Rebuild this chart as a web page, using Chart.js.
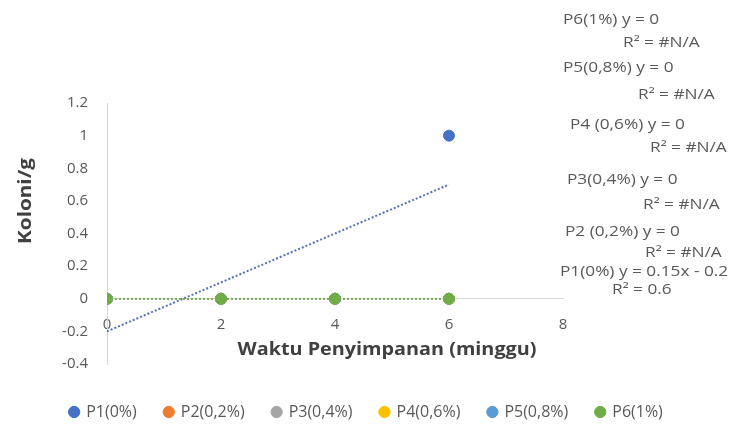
<!DOCTYPE html>
<html>
<head>
<meta charset="utf-8">
<script src="https://cdn.jsdelivr.net/npm/chart.js@4.4.1/dist/chart.umd.min.js"></script>
<style>
  html, body { margin: 0; padding: 0; background: #fff; }
  #wrap { width: 733px; height: 430px; position: relative; }
</style>
</head>
<body>
<div id="wrap"><canvas id="chart" width="733" height="430"></canvas></div>
<script>
// data
const weeks = [0, 2, 4, 6];
const seriesNames = ["P1(0%)", "P2(0,2%)", "P3(0,4%)", "P4(0,6%)", "P5(0,8%)", "P6(1%)"];
const p1 = [0, 0, 0, 1];
const p2 = [0, 0, 0, 0];
const p3 = [0, 0, 0, 0];
const p4 = [0, 0, 0, 0];
const p5 = [0, 0, 0, 0];
const p6 = [0, 0, 0, 0];
const seriesColors = ["#4472C4", "#ED7D31", "#A5A5A5", "#FFC000", "#5B9BD5", "#70AD47"];

// trendline end points (x = 0 and x = 6)
const trendX = [0, 6];
const trendP1 = [-0.2, 0.7];
const trendZero = [0, 0];

const trendLabels = [
  "P6(1%) y = 0", "R\u00B2 = #N/A",
  "P5(0,8%) y = 0", "R\u00B2 = #N/A",
  "P4 (0,6%) y = 0", "R\u00B2 = #N/A",
  "P3(0,4%) y = 0", "R\u00B2 = #N/A",
  "P2 (0,2%) y = 0", "R\u00B2 = #N/A",
  "P1(0%) y = 0.15x - 0.2", "R\u00B2 = 0.6"
];
// where each label sits (left x, middle y)
const labelPos = [
  [563, 20], [623, 43],
  [563, 68], [638, 95],
  [570, 125], [650, 148],
  [567, 180], [643, 205],
  [565, 232], [645, 253],
  [560, 272], [612, 290]
];

const allSeries = [p1, p2, p3, p4, p5, p6];
const toPts = (xs, ys) => xs.map((x, i) => ({ x: x, y: ys[i] }));

var datasets = [];
allSeries.forEach(function (vals, i) {
  datasets.push({
    label: seriesNames[i],
    data: toPts(weeks, vals),
    backgroundColor: seriesColors[i],
    borderColor: seriesColors[i],
    pointRadius: 5.5,
    pointHoverRadius: 5.5,
    showLine: false,
    order: 6 - i,
  });
});
allSeries.forEach(function (vals, i) {
  datasets.push({
    label: "trend " + seriesNames[i],
    type: "line",
    data: toPts(trendX, i === 0 ? trendP1 : trendZero),
    borderColor: i === 0 ? "#5470b8" : seriesColors[i],
    borderWidth: i === 0 ? 2 : 1.5,
    borderDash: [2, 2],
    pointRadius: 0,
    fill: false,
    order: 20 - i,
  });
});

// text drawn with a horizontal stretch
function stretchText(ctx, t, x, y, sx) {
  ctx.save();
  ctx.translate(x, y);
  ctx.scale(sx, 1);
  ctx.fillText(t, 0, 0);
  ctx.restore();
}

// extra texts: axis titles and trendline equations
const textPlugin = {
  id: "texts",
  afterDraw(chart) {
    const ctx = chart.ctx;
    ctx.save();
    ctx.textBaseline = "middle";
    ctx.font = "14px 'Open Sans'";
    ctx.fillStyle = "#595959";
    ctx.textAlign = "left";
    trendLabels.forEach(function (t, i) {
      stretchText(ctx, t, labelPos[i][0], labelPos[i][1], 1.23);
    });
    ctx.font = "bold 18px 'Open Sans'";
    ctx.fillStyle = "#404040";
    ctx.textAlign = "center";
    stretchText(ctx, "Waktu Penyimpanan (minggu)", 387, 350, 1.1);
    ctx.translate(26, 201);
    ctx.rotate(-Math.PI / 2);
    stretchText(ctx, "Koloni/g", 0, 0, 1.15);
    ctx.restore();
  },
};

const tickFont = { family: "'Open Sans'", size: 15 };

new Chart(document.getElementById("chart"), {
  type: "scatter",
  data: { datasets: datasets },
  plugins: [textPlugin],
  options: {
    responsive: false,
    animation: false,
    events: [],
    layout: { padding: { top: 103, right: 0, bottom: 0, left: 0 } },
    plugins: {
      tooltip: { enabled: false },
      legend: {
        position: "bottom",
        labels: {
          usePointStyle: true,
          pointStyle: "circle",
          boxWidth: 8,
          boxHeight: 8,
          padding: 28,
          color: "#595959",
          font: { family: "'Open Sans'", size: 16 },
          filter: (item) => item.datasetIndex < 6,
          sort: (a, b) => a.datasetIndex - b.datasetIndex,
        },
      },
    },
    scales: {
      x: {
        type: "linear",
        position: { y: 0 },
        min: 0,
        max: 8,
        ticks: { stepSize: 2, color: "#595959", padding: 17, font: tickFont },
        grid: { display: false, drawTicks: false },
        border: { color: "#d9d9d9", width: 1 },
      },
      xPad: {
        type: "linear",
        axis: "x",
        position: "bottom",
        ticks: { display: false },
        grid: { display: false, drawTicks: false },
        border: { display: false },
        afterFit: (s) => { s.height = 12; },
      },
      y: {
        min: -0.4,
        max: 1.2,
        ticks: {
          stepSize: 0.2,
          color: "#595959",
          padding: 19,
          font: tickFont,
          callback: (v) => String(Math.round(v * 10) / 10),
        },
        grid: { display: false, drawTicks: false },
        border: { color: "#d9d9d9", width: 1 },
        afterFit: (s) => { s.width = 107; },
      },
      yPad: {
        type: "linear",
        axis: "y",
        position: "right",
        ticks: { display: false },
        grid: { display: false, drawTicks: false },
        border: { display: false },
        afterFit: (s) => { s.width = 170; },
      },
    },
  },
});
</script>
</body>
</html>
